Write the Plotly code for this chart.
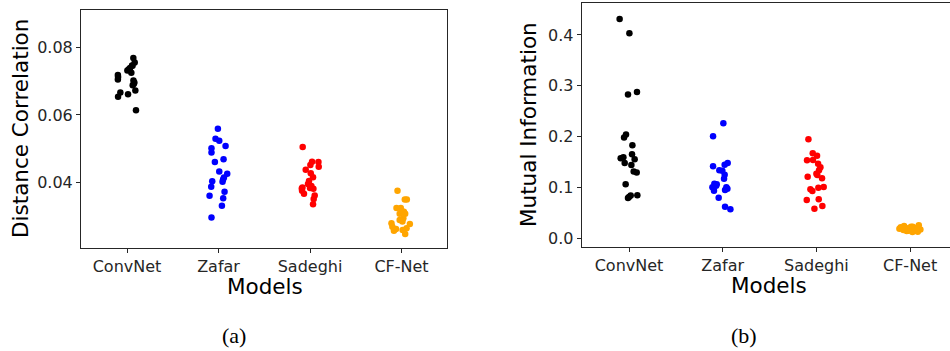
import plotly.graph_objects as go

models = ["ConvNet", "Zafar", "Sadeghi", "CF-Net"]
colors = ["#000000", "#0000ff", "#ff0000", "#ffa500"]

# ---- Panel (a): Distance Correlation ----
dc_convnet = [0.0768, 0.0755, 0.0746, 0.0739, 0.0731, 0.0725, 0.0718, 0.0712, 0.0705, 0.0696,
              0.0688, 0.0672, 0.0666, 0.0661, 0.0654, 0.0614, 0.0702, 0.0735, 0.0692, 0.0745]
dc_convnet_jit = [0.069, 0.084, 0.055, 0.033, 0.004, 0.047, -0.10, -0.098, -0.10, 0.080,
                  0.062, 0.091, -0.073, 0.011, -0.098, 0.098, 0.070, 0.020, 0.075, 0.060]
dc_zafar = [0.0559, 0.0530, 0.0524, 0.0508, 0.0502, 0.0489, 0.0469, 0.0461, 0.0433, 0.0426,
            0.0415, 0.0403, 0.0404, 0.0388, 0.0373, 0.0361, 0.0354, 0.0332, 0.0297, 0.0409]
dc_zafar_jit = [-0.007, -0.033, 0.008, 0.077, -0.077, -0.077, 0.055, -0.040, 0.008, 0.095,
                0.059, 0.044, -0.069, -0.080, 0.066, -0.098, 0.051, 0.037, -0.077, 0.050]
dc_sadeghi = [0.0505, 0.0462, 0.0461, 0.0452, 0.0447, 0.0438, 0.0428, 0.0416, 0.0405, 0.0396,
              0.0386, 0.0390, 0.0382, 0.0376, 0.0367, 0.0362, 0.0352, 0.0336, 0.0384, 0.0383]
dc_sadeghi_jit = [-0.080, 0.022, 0.092, 0.004, 0.095, -0.047, 0.008, 0.033, -0.011, -0.022,
                  -0.083, 0.015, 0.037, -0.087, -0.066, 0.051, 0.040, 0.033, 0.000, -0.090]
dc_cfnet = [0.0376, 0.0350, 0.0350, 0.0325, 0.0325, 0.0314, 0.0308, 0.0308, 0.0295, 0.0290,
            0.0285, 0.0280, 0.0278, 0.0270, 0.0263, 0.0265, 0.0260, 0.0248, 0.0258, 0.0318]
dc_cfnet_jit = [-0.044, 0.036, 0.058, -0.055, -0.008, 0.026, -0.020, 0.040, 0.020, -0.020,
                0.010, -0.110, 0.091, -0.100, -0.060, 0.055, 0.012, 0.040, -0.083, 0.000]

# ---- Panel (b): Mutual Information ----
mi_convnet = [0.4316, 0.4033, 0.2829, 0.2875, 0.198, 0.204, 0.183, 0.165, 0.157, 0.159,
              0.155, 0.148, 0.144, 0.131, 0.129, 0.106, 0.0836, 0.0842, 0.079, 0.081]
mi_convnet_jit = [-0.100, 0.004, -0.011, 0.085, -0.053, -0.032, 0.036, 0.032, -0.089, -0.060,
                  0.060, -0.046, 0.025, 0.050, 0.082, -0.036, 0.018, 0.089, -0.011, 0.000]
mi_zafar = [0.226, 0.2004, 0.1413, 0.1478, 0.1445, 0.1334, 0.1327, 0.1248, 0.1169, 0.107,
            0.1058, 0.0998, 0.0998, 0.0972, 0.0932, 0.0946, 0.0795, 0.0617, 0.0565, 0.103]
mi_zafar_jit = [0.007, -0.103, -0.103, 0.053, 0.021, -0.036, -0.004, 0.021, 0.014, -0.089,
                -0.064, -0.110, 0.039, 0.050, -0.093, 0.025, -0.043, 0.025, 0.082, -0.070]
mi_sadeghi = [0.1944, 0.1668, 0.1622, 0.153, 0.1537, 0.1464, 0.1393, 0.1334, 0.1267, 0.1208,
              0.124, 0.1178, 0.096, 0.0926, 0.0992, 0.1005, 0.0749, 0.0762, 0.0631, 0.0578]
mi_sadeghi_jit = [-0.085, -0.039, 0.007, -0.100, -0.036, 0.018, 0.043, 0.028, 0.000, -0.093,
                  0.010, 0.060, -0.064, -0.043, 0.021, 0.078, -0.103, 0.025, 0.064, -0.021]
mi_cfnet = [0.021, 0.0158, 0.019, 0.0178, 0.0223, 0.025, 0.0197, 0.0125, 0.0138, 0.0145,
            0.0197, 0.0184, 0.0223, 0.0158, 0.019, 0.017, 0.0138, 0.0118, 0.016, 0.0236]
mi_cfnet_jit = [-0.100, -0.071, -0.036, 0.000, 0.028, 0.093, 0.064, 0.082, 0.036, -0.018,
                -0.053, -0.114, 0.010, 0.050, -0.085, 0.110, -0.036, 0.025, 0.070, -0.064]

dc_vals = [dc_convnet, dc_zafar, dc_sadeghi, dc_cfnet]
dc_jits = [dc_convnet_jit, dc_zafar_jit, dc_sadeghi_jit, dc_cfnet_jit]
mi_vals = [mi_convnet, mi_zafar, mi_sadeghi, mi_cfnet]
mi_jits = [mi_convnet_jit, mi_zafar_jit, mi_sadeghi_jit, mi_cfnet_jit]

dc_ticks = [0.04, 0.06, 0.08]
dc_ticktext = ["0.04", "0.06", "0.08"]
mi_ticks = [0.0, 0.1, 0.2, 0.3, 0.4]
mi_ticktext = ["0.0", "0.1", "0.2", "0.3", "0.4"]

fig = go.Figure()
for i, (vals, jits) in enumerate(zip(dc_vals, dc_jits)):
    fig.add_trace(go.Scatter(x=[i + j for j in jits], y=vals, mode="markers",
                             marker=dict(color=colors[i], size=6.5, line=dict(width=0)),
                             xaxis="x", yaxis="y", showlegend=False))
for i, (vals, jits) in enumerate(zip(mi_vals, mi_jits)):
    fig.add_trace(go.Scatter(x=[i + j for j in jits], y=vals, mode="markers",
                             marker=dict(color=colors[i], size=6.5, line=dict(width=0)),
                             xaxis="x2", yaxis="y2", showlegend=False))

W, H = 950, 351
axcol = "#262626"
tickfont = dict(family="DejaVu Sans", size=16, color=axcol)

common_x = dict(tickmode="array", tickvals=[0, 1, 2, 3], ticktext=models,
                showgrid=False, zeroline=False, showline=True, linecolor=axcol, linewidth=1,
                ticks="outside", ticklen=4, tickcolor=axcol, tickfont=tickfont)
common_y = dict(tickmode="array", showgrid=False, zeroline=False, showline=True,
                linecolor=axcol, linewidth=1, ticks="outside", ticklen=4, tickcolor=axcol,
                tickfont=tickfont)

fig.update_layout(
    width=W, height=H,
    margin=dict(l=0, r=0, t=0, b=0),
    paper_bgcolor="white", plot_bgcolor="white",
    xaxis=dict(domain=[81 / W, 447 / W], range=[-0.503, 3.497], mirror=True, anchor="y", **common_x),
    yaxis=dict(domain=[(H - 248) / H, (H - 10) / H], range=[0.0207, 0.091], mirror=True,
               tickvals=dc_ticks, ticktext=dc_ticktext, anchor="x", **common_y),
    xaxis2=dict(domain=[581.7 / W, 1.0], range=[-0.505, 3.426], mirror=True, anchor="y2", **common_x),
    yaxis2=dict(domain=[(H - 247) / H, (H - 3) / H], range=[-0.0177, 0.463], mirror=False,
                tickvals=mi_ticks, ticktext=mi_ticktext, anchor="x2", **common_y),
)

titlefont = dict(family="DejaVu Sans", size=21.5, color="#000000")
serif = dict(family="Liberation Serif", size=22, color="#000000")
fig.add_annotation(x=265 / W, y=(H - 286) / H, xref="paper", yref="paper", text="Models",
                   showarrow=False, font=titlefont, xanchor="center", yanchor="middle")
fig.add_annotation(x=769 / W, y=(H - 285) / H, xref="paper", yref="paper", text="Models",
                   showarrow=False, font=titlefont, xanchor="center", yanchor="middle")
fig.add_annotation(x=20 / W, y=(H - 129) / H, xref="paper", yref="paper", text="Distance Correlation",
                   showarrow=False, font=titlefont, textangle=-90, xanchor="center", yanchor="middle")
fig.add_annotation(x=528 / W, y=(H - 125) / H, xref="paper", yref="paper", text="Mutual Information",
                   showarrow=False, font=titlefont, textangle=-90, xanchor="center", yanchor="middle")
fig.add_annotation(x=234 / W, y=(H - 335) / H, xref="paper", yref="paper", text="(a)",
                   showarrow=False, font=serif, xanchor="center", yanchor="middle")
fig.add_annotation(x=744 / W, y=(H - 335) / H, xref="paper", yref="paper", text="(b)",
                   showarrow=False, font=serif, xanchor="center", yanchor="middle")

fig.write_html("out.html")
